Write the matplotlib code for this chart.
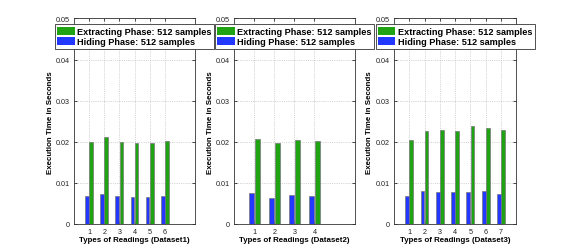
import numpy as np
import matplotlib
matplotlib.use('Agg')
import matplotlib.pyplot as plt

plt.rcParams['font.family'] = ['Liberation Sans', 'DejaVu Sans']

# Dataset 1 (6 types of readings)
hiding1 = [0.0067, 0.0072, 0.0067, 0.0065, 0.0065, 0.0068]
extract1 = [0.0200, 0.0212, 0.0200, 0.0196, 0.0198, 0.0201]
# Dataset 2 (4 types)
hiding2 = [0.0075, 0.0063, 0.0070, 0.0068]
extract2 = [0.0207, 0.0197, 0.0204, 0.0202]
# Dataset 3 (7 types)
hiding3 = [0.0068, 0.0080, 0.0077, 0.0077, 0.0078, 0.0079, 0.0073]
extract3 = [0.0204, 0.0226, 0.0229, 0.0226, 0.0238, 0.0233, 0.0228]

datasets = [(hiding1, extract1, 'Types of Readings (Dataset1)', 8),
            (hiding2, extract2, 'Types of Readings (Dataset2)', 6),
            (hiding3, extract3, 'Types of Readings (Dataset3)', 8)]

green = '#1fa313'
blue = '#2238ff'

fig = plt.figure(figsize=(5.70, 2.53), dpi=100)
lefts = [0.130, 0.411, 0.691]
widths = [0.212, 0.211, 0.215]

for i, (hid, ext, xlab, xmax) in enumerate(datasets):
    ax = fig.add_axes([lefts[i], 0.111, widths[i], 0.812])
    x = np.arange(1, len(hid) + 1)
    w = 0.25
    ax.bar(x + 0.135, ext, w, color=green, edgecolor='#777777', linewidth=0.5,
           label='Extracting Phase: 512 samples', zorder=3)
    ax.bar(x - 0.135, hid, w, color=blue, edgecolor='#777777', linewidth=0.5,
           label='Hiding Phase: 512 samples', zorder=3)
    ax.set_xlim(0, xmax)
    ax.set_ylim(0, 0.05)
    ax.set_xticks(x)
    ax.set_yticks([0, 0.01, 0.02, 0.03, 0.04, 0.05])
    ax.set_yticklabels(['0', '0.01', '0.02', '0.03', '0.04', '0.05'])
    ax.tick_params(direction='in', labelsize=5.2, length=2.5, width=0.5,
                   top=True, right=True, pad=3, labelcolor='#222222')
    ax.grid(True, linestyle=':', color='#b0b0b0', linewidth=0.5, zorder=0)
    for s in ax.spines.values():
        s.set_linewidth(0.6)
        s.set_color('#333333')
    ax.set_xlabel(xlab, fontsize=5.7, fontweight='bold', labelpad=0.5)
    ax.set_ylabel('Execution Time in Seconds', fontsize=5.7, fontweight='bold', labelpad=1.5)
    leg = ax.legend(loc='upper center', bbox_to_anchor=(0.5, 0.972),
                    prop={'weight': 'bold', 'size': 6.6}, frameon=True, fancybox=False,
                    handlelength=1.9, handleheight=1.0, handletextpad=0.3,
                    borderpad=0.25, labelspacing=0.15, borderaxespad=0)
    leg.get_frame().set_edgecolor('#333333')
    leg.get_frame().set_linewidth(0.6)
    leg.get_frame().set_alpha(1)
    for h in leg.legend_handles:
        h.set_edgecolor('none')

fig.savefig('out.png', dpi=100)
